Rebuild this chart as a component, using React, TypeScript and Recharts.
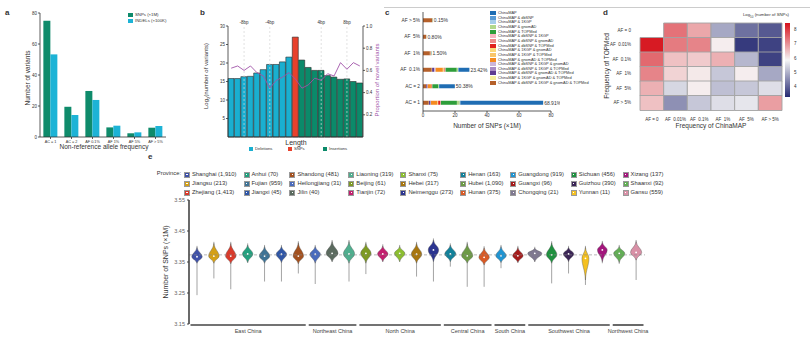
import React from 'react';
import {
  BarChart,
  Bar,
  ComposedChart,
  Line,
  XAxis,
  YAxis,
  ReferenceLine,
  Cell,
  LabelList,
} from 'recharts';

const FONT = '"Liberation Sans", Arial, Helvetica, sans-serif';
const INK = '#333';
const NB = '\u00a0';

// a: variants per allele frequency bin
const freqBins = ['AC = 1', 'AC = 2', 'AF 0.1%', 'AF 1%', 'AF 5%', 'AF > 5%'];
const snpMillions = [75.0, 19.5, 29.7, 6.2, 2.4, 6.0];
const indelHundredK = [53.3, 14.2, 23.9, 7.3, 3.0, 7.1];

// b: indel length spectrum (0 = SNPs)
const lengths = [-10, -9, -8, -7, -6, -5, -4, -3, -2, -1, 0, 1, 2, 3, 4, 5, 6, 7, 8, 9, 10];
const log2Counts = [15.8, 15.8, 16.3, 16.4, 17.3, 18.2, 19.6, 19.6, 20.3, 21.6, 27.0, 20.8, 18.8, 18.0, 18.0, 16.6, 16.2, 15.6, 15.7, 15.0, 14.6];
const novelShare = [0.62, 0.64, 0.6, 0.64, 0.58, 0.55, 0.44, 0.51, 0.54, 0.58, 0.52, 0.44, 0.47, 0.53, 0.51, 0.57, 0.55, 0.67, 0.61, 0.67, 0.64];
const markedLengths = [-8, -4, 4, 8];

// c: overlap of ChinaMAP SNPs with other databases
const snpBins = ['AF > 5%', 'AF  5%', 'AF  1%', 'AF  0.1%', 'AC = 2', 'AC = 1'];
const novelPct = ['0.15%', '0.80%', '1.50%', '23.42%', '50.38%', '68.91%'];
const overlapSets = [
  'ChinaMAP',
  'ChinaMAP & dbSNP',
  'ChinaMAP & 1KGP',
  'ChinaMAP & gnomAD',
  'ChinaMAP & TOPMed',
  'ChinaMAP & dbSNP & 1KGP',
  'ChinaMAP & dbSNP & gnomAD',
  'ChinaMAP & dbSNP & TOPMed',
  'ChinaMAP & 1KGP & gnomAD',
  'ChinaMAP & 1KGP & TOPMed',
  'ChinaMAP & gnomAD & TOPMed',
  'ChinaMAP & dbSNP & 1KGP & gnomAD',
  'ChinaMAP & dbSNP & 1KGP & TOPMed',
  'ChinaMAP & dbSNP & gnomAD & TOPMed',
  'ChinaMAP & 1KGP & gnomAD & TOPMed',
  'ChinaMAP & dbSNP & 1KGP & gnomAD & TOPMed',
];
const overlapColors = [
  '#1f6db3', '#5b9bd5', '#a6cde8', '#b2d88a', '#2e9e3a', '#f7b6c2', '#ee8a8a', '#e0201c',
  '#fbd77a', '#f9c56a', '#f58a1f', '#cdb6da', '#a98bc4', '#5f3c91', '#f6ee9a', '#b5602a',
];
// values (x1M) in legend order, one list per frequency bin
const afOver5Overlap = [0.009, 0.02, 0.02, 0.12, 0.08, 0.01, 0.02, 0.01, 0.01, 0.01, 0.05, 0.02, 0.02, 0.05, 0.02, 5.7];
const af5Overlap = [0.016, 0.01, 0.01, 0.02, 0.03, 0.01, 0.01, 0.01, 0.01, 0.01, 0.05, 0.01, 0.01, 0.04, 0.01, 1.9];
const af1Overlap = [0.08, 0.02, 0.02, 0.05, 0.15, 0.02, 0.03, 0.02, 0.03, 0.05, 0.25, 0.05, 0.05, 0.2, 0.05, 4.3];
const af01Overlap = [6.8, 0.2, 0.1, 0.8, 7.0, 0.2, 0.3, 0.3, 0.3, 0.6, 4.5, 0.6, 0.4, 1.2, 0.2, 5.5];
const ac2Overlap = [9.8, 0.1, 0.05, 0.3, 3.8, 0.05, 0.2, 0.3, 0.05, 0.3, 2.0, 0.1, 0.1, 0.7, 0.05, 2.0];
const ac1Overlap = [51.7, 0.3, 0.1, 1.8, 10.0, 0.1, 0.4, 1.2, 0.2, 0.3, 4.0, 0.2, 0.1, 1.0, 0.1, 3.6];
const overlapByBin = [afOver5Overlap, af5Overlap, af1Overlap, af01Overlap, ac2Overlap, ac1Overlap];

// d: log10(number of SNPs), TOPMed rows x ChinaMAP columns
const freqLevels = ['AF = 0', 'AF  0.01%', 'AF  0.1%', 'AF  1%', 'AF  5%', 'AF > 5%'];
const log10Snps: (number | null)[][] = [
  [null, 7.4, 6.8, 4.9, 4.2, 3.9],
  [8.4, 7.3, 7.2, 6.0, 3.5, 3.6],
  [7.5, 6.5, 6.4, 6.7, 5.1, 3.6],
  [7.2, 6.3, 6.05, 5.3, 6.0, 4.9],
  [6.7, 5.5, 6.0, 5.2, 5.3, 5.6],
  [6.5, 4.6, 5.3, 5.6, 5.7, 6.9],
];
const heatTicks = [8, 7, 6, 5, 4];
const HEAT_MIN = 3.3;
const HEAT_MAX = 8.5;
const HEAT_MID = 5.9;

// e: SNPs per individual by province
const provinces = ['Shanghai', 'Jiangsu', 'Zhejiang', 'Anhui', 'Fujian', 'Jiangxi', 'Shandong', 'Heilongjiang', 'Jilin', 'Liaoning', 'Beijing', 'Tianjin', 'Shanxi', 'Hebei', 'Neimenggu', 'Henan', 'Hubei', 'Hunan', 'Guangdong', 'Guangxi', 'Chongqing', 'Sichuan', 'Guizhou', 'Yunnan', 'Xizang', 'Shaanxi', 'Gansu'];
const sampleSizes = ['1,910', '213', '1,413', '70', '959', '45', '481', '31', '40', '319', '61', '72', '75', '317', '273', '163', '1,090', '375', '919', '96', '21', '456', '390', '11', '137', '92', '559'];
const regionNames = ['East China', 'Northeast China', 'North China', 'Central China', 'South China', 'Southwest China', 'Northwest China'];
const regionSizes = [7, 3, 5, 3, 2, 5, 2];
const provinceColors = ['#3f51a8', '#d4a017', '#d93a2b', '#22a07e', '#3f7395', '#2f56a6', '#a4511f', '#4a6bbd', '#5a6a5e', '#4fae8e', '#7d9a23', '#c41e6e', '#8cbf2f', '#a8760f', '#2c3590', '#12819a', '#6c9a45', '#d85a26', '#1f94d2', '#a51b1b', '#7f7890', '#1f9140', '#3b2556', '#f4c020', '#a3167c', '#62ae55', '#d990a6'];
const bodyHigh = [3.397, 3.41, 3.41, 3.405, 3.4, 3.4, 3.412, 3.4, 3.416, 3.416, 3.41, 3.402, 3.4, 3.41, 3.421, 3.405, 3.41, 3.396, 3.4, 3.397, 3.394, 3.412, 3.397, 3.397, 3.413, 3.4, 3.416];
const bodyLow = [3.346, 3.346, 3.344, 3.348, 3.346, 3.348, 3.344, 3.346, 3.351, 3.346, 3.346, 3.351, 3.351, 3.346, 3.351, 3.351, 3.346, 3.34, 3.348, 3.348, 3.351, 3.346, 3.351, 3.292, 3.351, 3.348, 3.356];
const whiskerLow = [3.243, 3.297, 3.262, 3.348, 3.287, 3.287, 3.313, 3.279, 3.351, 3.287, 3.311, 3.351, 3.351, 3.303, 3.287, 3.335, 3.27, 3.27, 3.33, 3.348, 3.351, 3.281, 3.313, 3.276, 3.346, 3.344, 3.292];
const medians = [3.367, 3.369, 3.369, 3.376, 3.369, 3.375, 3.369, 3.375, 3.378, 3.376, 3.378, 3.376, 3.378, 3.375, 3.389, 3.376, 3.37, 3.365, 3.37, 3.37, 3.378, 3.373, 3.376, 3.362, 3.389, 3.378, 3.381];
const spreads = [0.75, 0.75, 0.75, 0.75, 0.75, 0.75, 0.75, 0.75, 0.85, 0.8, 0.75, 0.75, 0.75, 0.75, 0.75, 0.8, 0.8, 0.75, 0.75, 0.75, 1.0, 0.75, 0.75, 0.5, 0.7, 0.8, 0.8];
const overallMedian = 3.373;

// keep multi-word tick labels on one line
const oneLine = (s: string) => s.replace(/ /g, NB);

const aRows = freqBins.map((bin, i) => ({ bin: oneLine(bin), snp: snpMillions[i], indel: indelHundredK[i] }));
const bRows = lengths.map((len, i) => ({ len, log2: log2Counts[i], novel: novelShare[i] }));
const cRows = snpBins.map((bin, i) => {
  const row: any = { bin: oneLine(bin), pct: novelPct[i] };
  overlapSets.forEach((_, k) => (row['s' + k] = overlapByBin[i][k]));
  return row;
});
const dRows = freqLevels.map((row) => {
  const r: any = { row: oneLine(row) };
  freqLevels.forEach((_, c) => (r['c' + c] = 1));
  return r;
});
const eRows = provinces.map((p, i) => ({
  province: p,
  lo: whiskerLow[i],
  hi: bodyHigh[i] + 0.005,
  bodyLo: bodyLow[i],
  bodyHi: bodyHigh[i],
  med: medians[i],
  spread: spreads[i],
  color: provinceColors[i],
}));

const lengthColor = (len: number) => (len < 0 ? '#1aafd0' : len === 0 ? '#e8412c' : '#0b8a6a');

const hexRgb = (h: string) => [1, 3, 5].map((i) => parseInt(h.slice(i, i + 2), 16));
const mix = (a: string, b: string, t: number) => {
  const A = hexRgb(a);
  const B = hexRgb(b);
  return `rgb(${A.map((v, i) => Math.round(v + (B[i] - v) * t)).join(',')})`;
};
const heatColor = (v: number) =>
  v < HEAT_MID
    ? mix('#262a73', '#f6f6f6', Math.max(0, (v - HEAT_MIN) / (HEAT_MID - HEAT_MIN)))
    : mix('#f6f6f6', '#d6111b', Math.min(1, (v - HEAT_MID) / (HEAT_MAX - HEAT_MID)));

const T = ({ x, y, children, size = 5, rot = 0, color = INK, anchor = 'middle', weight = 400 }: any) => {
  const tx = anchor === 'middle' ? '-50%' : anchor === 'end' ? '-100%' : '0%';
  return (
    <div
      style={{
        position: 'absolute',
        left: x,
        top: y,
        transform: `translate(${tx},-50%) rotate(${rot}deg)`,
        fontSize: size,
        color,
        whiteSpace: 'nowrap',
        lineHeight: 1,
        fontWeight: weight,
      }}
    >
      {children}
    </div>
  );
};

const Box = ({ x, y, w, h, color }: any) => (
  <div style={{ position: 'absolute', left: x, top: y, width: w, height: h, background: color }} />
);

// e violin panel geometry
const E_W = 510;
const E_MARGIN = { top: 5, right: 5, left: 0, bottom: 0 };
const E_YAXIS = 49;
const E_BAND = (E_W - E_MARGIN.left - E_MARGIN.right - E_YAXIS) / provinces.length;

const regionStart: Record<number, number> = {};
regionSizes.reduce((start, n, r) => {
  regionStart[start] = r;
  return start + n;
}, 0);

const RegionTick = (props: any) => {
  const { x, y, payload } = props;
  const i = provinces.indexOf(payload.value);
  const r = regionStart[i];
  if (r === undefined) return null;
  const n = regionSizes[r];
  const left = x - E_BAND / 2 + 1.5;
  const right = x + E_BAND * (n - 0.5) - 1.5;
  return (
    <g>
      <line x1={left} x2={right} y1={y + 1} y2={y + 1} stroke="#444" strokeWidth={1.6} />
      <text x={(left + right) / 2} y={y + 9} textAnchor="middle" fontSize={5.5} fill="#444" fontFamily={FONT}>
        {regionNames[r]}
      </text>
    </g>
  );
};

const ViolinShape = (props: any) => {
  const { x, y, width, height, payload } = props;
  if (!payload) return null;
  const top = Math.min(y, y + height);
  const bottom = Math.max(y, y + height);
  const span = payload.hi - payload.lo;
  const at = (v: number) => (span > 0 ? top + ((bottom - top) * (payload.hi - v)) / span : top);
  const cx = x + width / 2;
  const w = (width / 2) * payload.spread;
  const yt = at(payload.bodyHi);
  const yb = at(payload.bodyLo);
  const ym = at(payload.med);
  const up = ym - yt;
  const dn = yb - ym;
  const d = `M${cx},${yt} C${cx + w * 0.15},${yt + up * 0.5} ${cx + w},${ym - up * 0.35} ${cx + w},${ym} C${cx + w},${ym + dn * 0.35} ${cx + w * 0.15},${yb - dn * 0.5} ${cx},${yb} C${cx - w * 0.15},${yb - dn * 0.5} ${cx - w},${ym + dn * 0.35} ${cx - w},${ym} C${cx - w},${ym - up * 0.35} ${cx - w * 0.15},${yt + up * 0.5} ${cx},${yt} Z`;
  return (
    <g>
      <line x1={cx} x2={cx} y1={top} y2={bottom} stroke="#666" strokeWidth={0.6} />
      <path d={d} fill={payload.color} stroke="#555" strokeWidth={0.4} />
      <circle cx={cx} cy={ym} r={0.9} fill="#fff" />
    </g>
  );
};

const axisStroke = { stroke: INK, strokeWidth: 0.8 };

export default function App() {
  return (
    <div
      style={{
        position: 'absolute',
        left: 0,
        top: 0,
        width: 810,
        height: 338,
        background: '#fff',
        fontFamily: FONT,
        overflow: 'hidden',
      }}
    >
      <div style={{ position: 'absolute', left: 384, top: 7, width: 426, height: 1, background: '#ccc' }} />

      {/* a */}
      <T x={5} y={13} size={8} weight={700} anchor="start">a</T>
      <div style={{ position: 'absolute', left: 0, top: 0 }}>
        <BarChart width={170} height={160} data={aRows} margin={{ top: 13, right: 4, left: 0, bottom: 0 }} barCategoryGap="16%" barGap={0}>
          <XAxis dataKey="bin" height={23} interval={0} tick={{ fontSize: 3.8, fill: INK }} tickSize={2} tickMargin={1} axisLine={axisStroke} tickLine={axisStroke} />
          <YAxis width={40} domain={[0, 80]} ticks={[0, 20, 40, 60, 80]} tick={{ fontSize: 4.5, fill: INK }} tickSize={2} tickMargin={1} axisLine={axisStroke} tickLine={axisStroke} />
          <Bar dataKey="snp" fill="#0f8b6b" isAnimationActive={false} />
          <Bar dataKey="indel" fill="#1db3d6" isAnimationActive={false} />
        </BarChart>
      </div>
      <T x={28} y={78} size={6.5} rot={-90}>Number of variants</T>
      <T x={104} y={147} size={6.5}>Non-reference allele frequency</T>
      <Box x={128} y={13} w={5} h={4} color="#0f8b6b" />
      <Box x={128} y={19} w={5} h={4} color="#1db3d6" />
      <T x={135} y={15} size={4.3} anchor="start">SNPs (×1M)</T>
      <T x={135} y={21} size={4.3} anchor="start">INDELs (×100K)</T>

      {/* b */}
      <T x={200} y={13} size={8} weight={700} anchor="start">b</T>
      <div style={{ position: 'absolute', left: 190, top: 0 }}>
        <ComposedChart width={190} height={138} data={bRows} margin={{ top: 26, right: 0, left: 0, bottom: 0 }} barCategoryGap={0}>
          <XAxis dataKey="len" height={1} tick={false} tickLine={false} axisLine={axisStroke} />
          <YAxis yAxisId="left" width={38} domain={[0, 30]} ticks={[0, 5, 10, 15, 20, 25, 30]} tick={{ fontSize: 4.5, fill: INK }} tickSize={2} tickMargin={1} axisLine={axisStroke} tickLine={axisStroke} />
          <YAxis yAxisId="right" orientation="right" width={17} domain={[0, 1]} ticks={[0, 0.2, 0.4, 0.6, 0.8, 1]} tickFormatter={(v: number) => v.toFixed(1)} tick={{ fontSize: 4.5, fill: INK }} tickSize={2} tickMargin={1} axisLine={axisStroke} tickLine={axisStroke} />
          <Bar yAxisId="left" dataKey="log2" stroke="#2a2a2a" strokeWidth={0.6} isAnimationActive={false}>
            {bRows.map((r) => (
              <Cell key={r.len} fill={lengthColor(r.len)} />
            ))}
          </Bar>
          {markedLengths.map((len) => (
            <ReferenceLine
              key={len}
              yAxisId="left"
              x={len}
              stroke="#d4d4d4"
              strokeDasharray="2 2"
              strokeWidth={0.7}
              label={{ value: `${len}bp`, position: 'top', fontSize: 4.5, fill: INK, offset: 2 }}
            />
          ))}
          <Line yAxisId="right" dataKey="novel" type="linear" stroke="#a052a8" strokeWidth={0.9} dot={false} isAnimationActive={false} />
        </ComposedChart>
      </div>
      <T x={207} y={76} size={6} rot={-90}>
        Log<sub style={{ fontSize: 4 }}>2</sub>(number of variants)
      </T>
      <T x={377} y={80} size={6} rot={-90} color="#a052a8">Proportion of novel variants</T>
      <T x={296} y={142} size={7}>Length</T>
      <Box x={249} y={147} w={4} h={4} color="#1aafd0" />
      <T x={255} y={149} size={4.2} anchor="start">Deletions</T>
      <Box x={288} y={147} w={4} h={4} color="#e8412c" />
      <T x={294} y={149} size={4.2} anchor="start">SNPs</T>
      <Box x={323} y={147} w={4} h={4} color="#0b8a6a" />
      <T x={329} y={149} size={4.2} anchor="start">Insertions</T>

      {/* c */}
      <T x={385} y={13} size={8} weight={700} anchor="start">c</T>
      <div style={{ position: 'absolute', left: 380, top: 0 }}>
        <BarChart layout="vertical" width={180} height={131} data={cRows} margin={{ top: 12, right: 9, left: 0, bottom: 0 }} barCategoryGap="38%">
          <XAxis type="number" domain={[0, 80]} ticks={[0, 20, 40, 60, 80]} height={20} tick={{ fontSize: 4.5, fill: INK }} tickSize={2} tickMargin={1} axisLine={axisStroke} tickLine={axisStroke} />
          <YAxis type="category" dataKey="bin" width={43} tick={{ fontSize: 4.8, fill: INK }} tickSize={2} tickMargin={1} axisLine={axisStroke} tickLine={false} />
          {overlapSets
            .map((name, k) => (
              <Bar key={name} dataKey={'s' + k} name={name} stackId="o" fill={overlapColors[k]} isAnimationActive={false}>
                {k === 0 && <LabelList dataKey="pct" position="right" offset={1} fontSize={5} fill={INK} />}
              </Bar>
            ))
            .reverse()}
        </BarChart>
      </div>
      <T x={487} y={126} size={6.5}>Number of SNPs (×1M)</T>
      {overlapSets.map((name, k) => (
        <React.Fragment key={name}>
          <Box x={490} y={11 + k * 4.65} w={6} h={4} color={overlapColors[k]} />
          <T x={498} y={13 + k * 4.65} size={3.9} anchor="start">{name}</T>
        </React.Fragment>
      ))}

      {/* d */}
      <T x={603} y={13} size={8} weight={700} anchor="start">d</T>
      <div style={{ position: 'absolute', left: 600, top: 0 }}>
        <BarChart layout="vertical" width={190} height={122} data={dRows} margin={{ top: 23, right: 8, left: 0, bottom: 0 }} barCategoryGap={0}>
          <XAxis type="number" domain={[0, 6]} ticks={[0.5, 1.5, 2.5, 3.5, 4.5, 5.5]} tickFormatter={(v: number) => oneLine(freqLevels[Math.floor(v)])} height={12} tick={{ fontSize: 4.5, fill: INK }} tickLine={false} axisLine={false} tickMargin={2} />
          <YAxis type="category" dataKey="row" width={40} tick={{ fontSize: 4.5, fill: INK }} tickLine={false} axisLine={false} tickMargin={3} />
          {freqLevels.map((lvl, c) => (
            <Bar key={lvl} dataKey={'c' + c} stackId="h" isAnimationActive={false}>
              {log10Snps.map((row, r) => {
                const v = row[c];
                return v === null ? (
                  <Cell key={r} fill="#fff" stroke="#fff" />
                ) : (
                  <Cell key={r} fill={heatColor(v)} stroke="#a3a3a3" strokeWidth={0.9} />
                );
              })}
            </Bar>
          ))}
        </BarChart>
      </div>
      <T x={607} y={66} size={6.5} rot={-90}>Frequency of TOPMed</T>
      <T x={711} y={126} size={6.5}>Frequency of ChinaMAP</T>
      <T x={766} y={16} size={4.3}>
        Log<sub style={{ fontSize: 3 }}>10</sub> (number of SNPs)
      </T>
      <div
        style={{
          position: 'absolute',
          left: 785,
          top: 23,
          width: 5,
          height: 74,
          background: `linear-gradient(to top, #262a73, #f6f6f6 ${((HEAT_MID - HEAT_MIN) / (HEAT_MAX - HEAT_MIN)) * 100}%, #d6111b)`,
        }}
      />
      {heatTicks.map((v) => (
        <T key={v} x={794} y={23 + (74 * (HEAT_MAX - v)) / (HEAT_MAX - HEAT_MIN)} size={4.5} anchor="start">
          {v}
        </T>
      ))}

      {/* e */}
      <T x={148} y={157} size={8} weight={700} anchor="start">e</T>
      <T x={181} y={174} size={5.8} anchor="end">Province:</T>
      <div
        style={{
          position: 'absolute',
          left: 184,
          top: 170,
          display: 'grid',
          gridTemplateRows: 'repeat(3, 9px)',
          gridAutoFlow: 'column',
          columnGap: 7,
        }}
      >
        {provinces.map((p, i) => (
          <div key={p} style={{ display: 'flex', alignItems: 'center', fontSize: 5.8, lineHeight: 1, whiteSpace: 'nowrap', color: INK }}>
            <span
              style={{
                width: 6,
                height: 6,
                boxSizing: 'border-box',
                border: '0.6px solid #999',
                background: provinceColors[i],
                marginRight: 2,
                display: 'inline-flex',
                alignItems: 'center',
                justifyContent: 'center',
              }}
            >
              <span style={{ width: 1.2, height: 1.2, background: '#fff' }} />
            </span>
            {p} ({sampleSizes[i]})
          </div>
        ))}
      </div>
      <div style={{ position: 'absolute', left: 140, top: 195 }}>
        <ComposedChart width={E_W} height={143} data={eRows} margin={E_MARGIN} barCategoryGap="10%">
          <XAxis dataKey="province" height={14} interval={0} tick={<RegionTick />} tickLine={false} axisLine={false} tickSize={0} tickMargin={0} />
          <YAxis width={E_YAXIS} domain={[3.15, 3.55]} ticks={[3.15, 3.25, 3.35, 3.45, 3.55]} tickFormatter={(v: number) => v.toFixed(2)} tick={{ fontSize: 5.5, fill: '#666' }} tickSize={2} tickMargin={2} axisLine={{ stroke: '#444', strokeWidth: 1.6 }} tickLine={{ stroke: '#444' }} allowDataOverflow />
          <ReferenceLine y={overallMedian} stroke="#888" strokeDasharray="3 2" strokeWidth={0.6} />
          <Bar dataKey={(d: any) => [d.lo, d.hi]} barSize={14} shape={<ViolinShape />} isAnimationActive={false} />
        </ComposedChart>
      </div>
      <T x={165} y={262} size={7} rot={-90}>Number of SNPs (×1M)</T>
    </div>
  );
}
